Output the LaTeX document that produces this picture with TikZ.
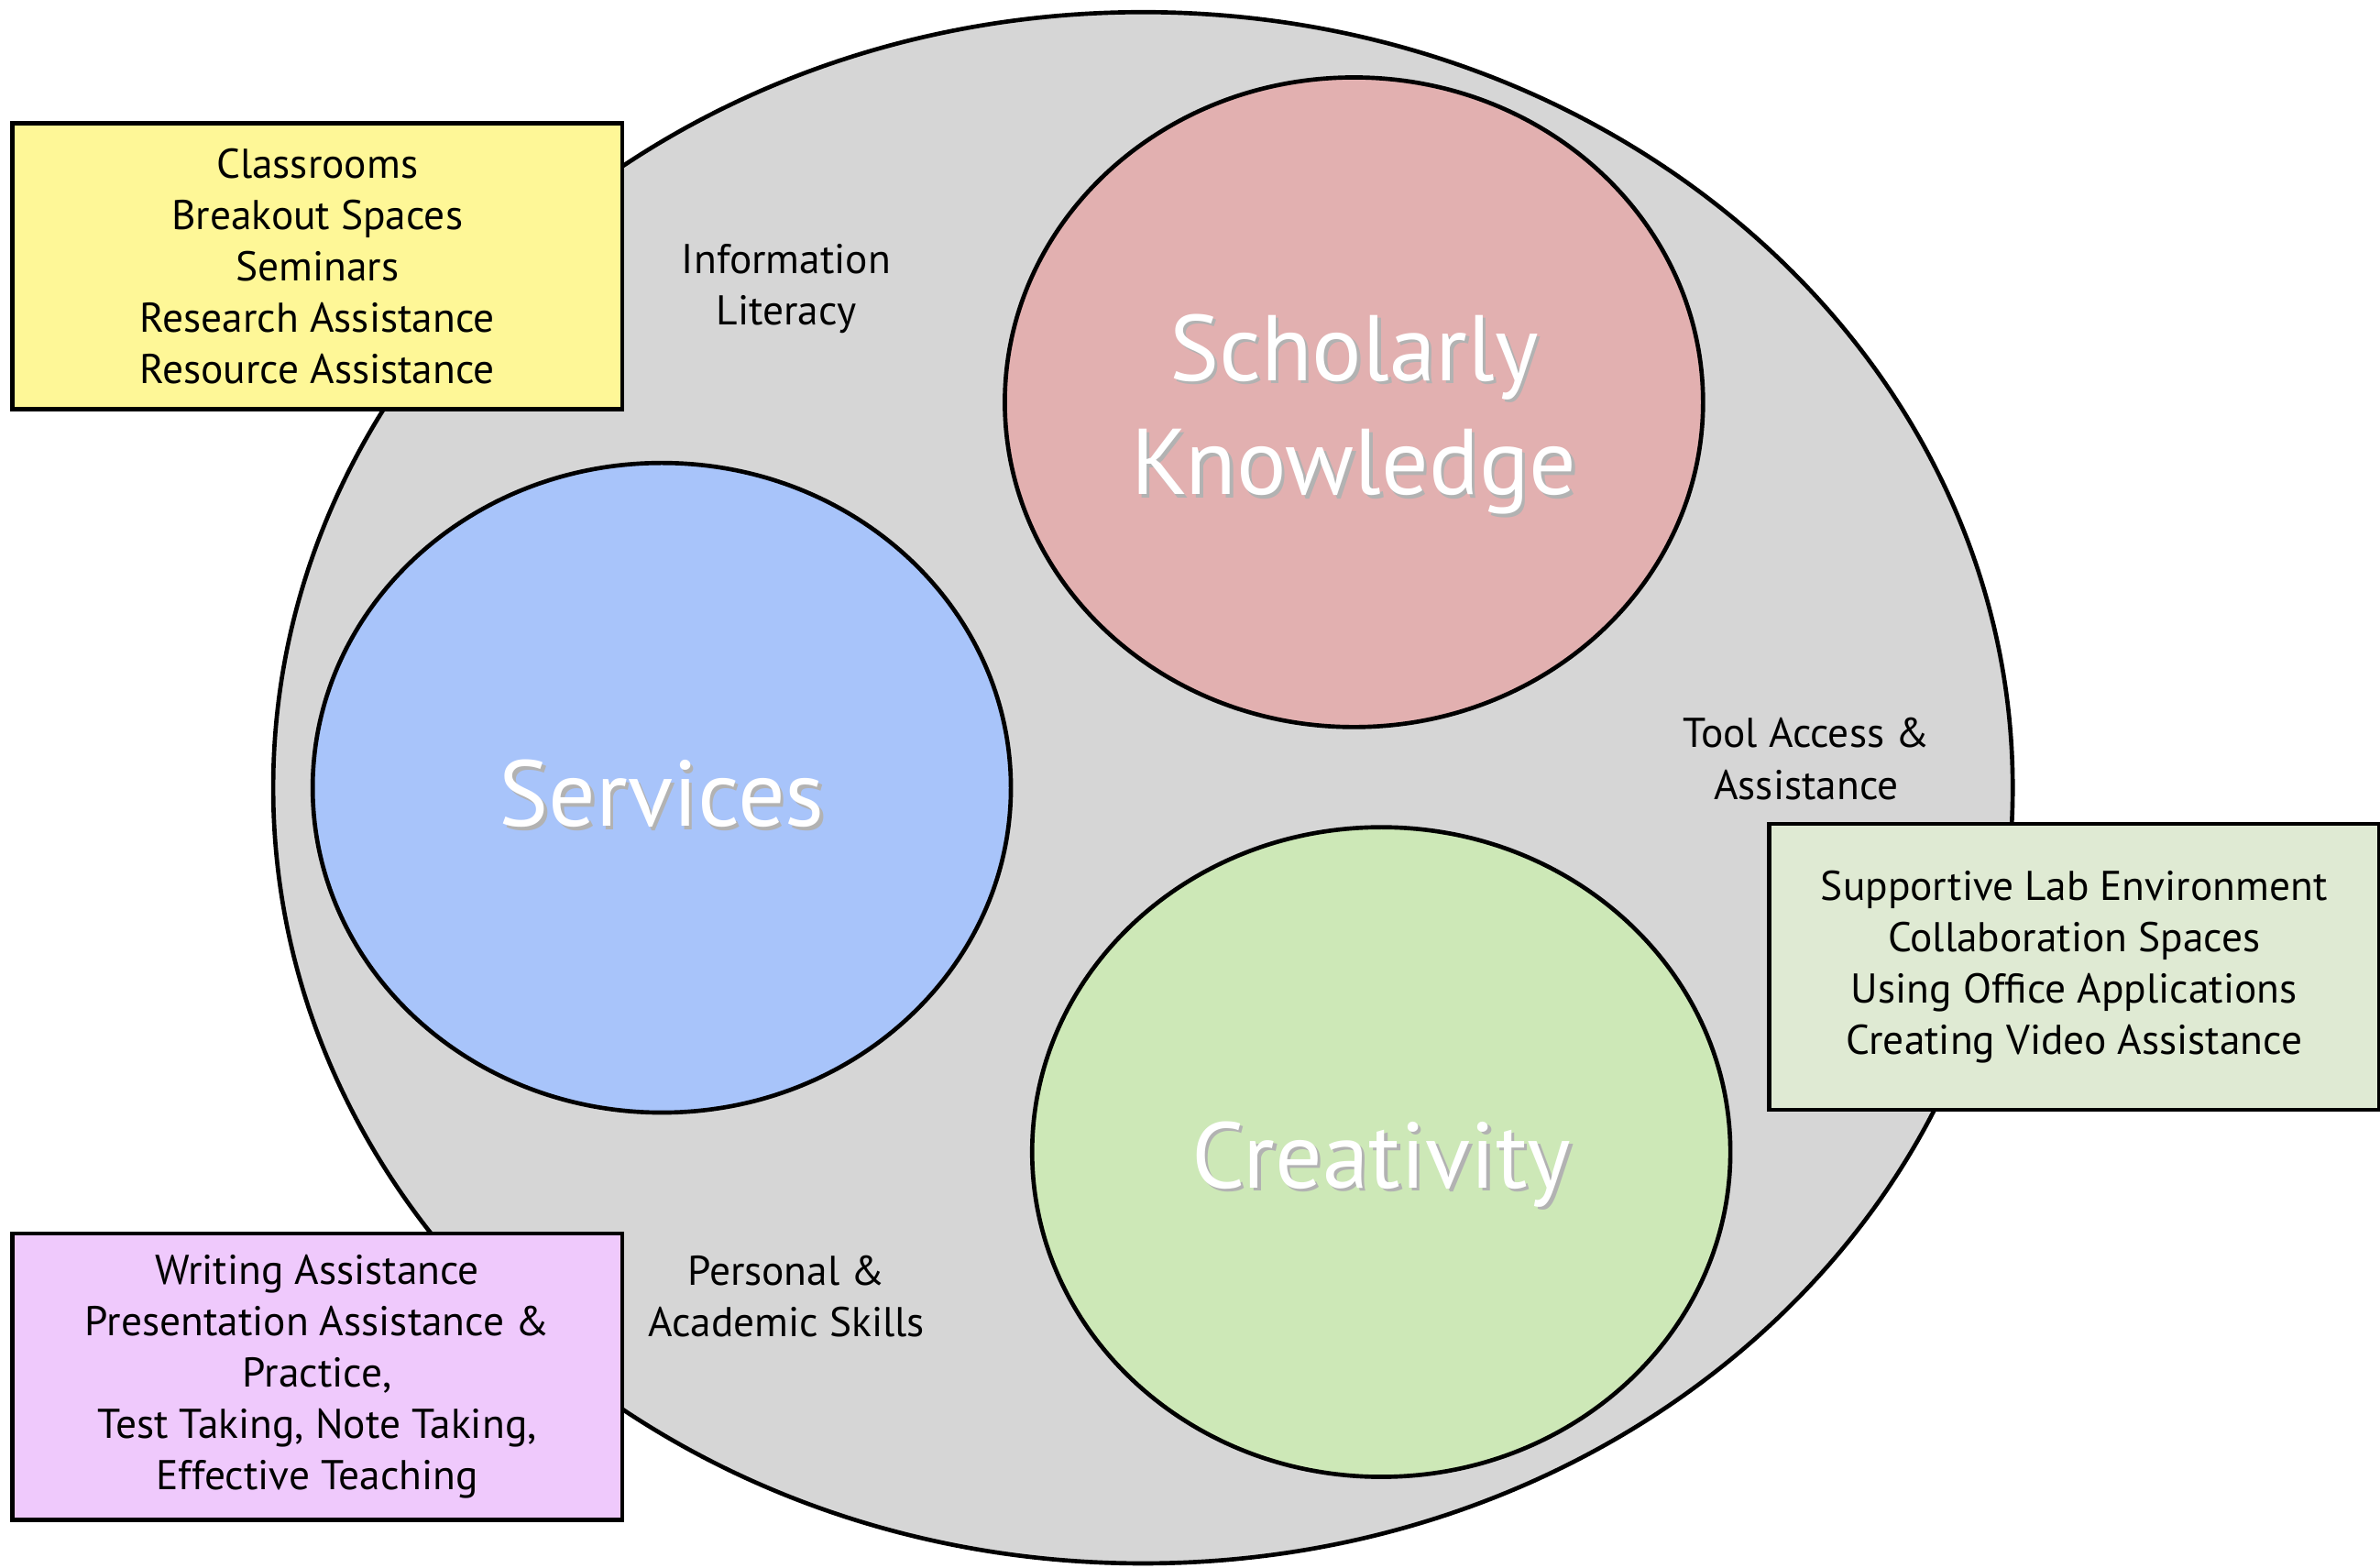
\documentclass[tikz,border=0pt]{standalone}
\usepackage{fontspec}
\setmainfont{PT Sans}
\usepackage{tikz}
\usetikzlibrary{shapes.geometric}

\definecolor{ringgray}{HTML}{D6D6D6}
\definecolor{skpink}{HTML}{E2B0B0}
\definecolor{srvblue}{HTML}{A8C4FA}
\definecolor{crgreen}{HTML}{CDE8B7}
\definecolor{boxyellow}{HTML}{FEF797}
\definecolor{boxgreen}{HTML}{DFEAD3}
\definecolor{boxpurple}{HTML}{EFC9FC}

\newcommand{\shtext}[1]{\makebox[0pt][l]{\hspace{1.2pt}\raisebox{-1.2pt}{\textcolor{black!30}{#1}}}#1}

\begin{document}
\begin{tikzpicture}[x=0.2mm,y=-0.2mm,
		blob/.style={ellipse,draw,line width=1.6pt,minimum width=9.2cm,minimum height=8.56cm,inner sep=0pt},
		bigtext/.style={text=white,align=center,font=\fontsize{35}{42.7}\selectfont},
		listbox/.style={rectangle,draw,line width=1.6pt,minimum width=8.04cm,minimum height=3.77cm,
			align=center,font=\fontsize{15.6}{19.3}\selectfont},
		tag/.style={align=center,font=\fontsize{15.6}{19.3}\selectfont}]
		\useasboundingbox (0,0) rectangle (1568,1033);
		% outer ring
		\node[ellipse,draw,line width=1.6pt,fill=ringgray,minimum width=22.92cm,minimum height=20.44cm] (ring) at (753,519) {};
		% three areas
		\node[blob,fill=skpink] (schol) at (892,265) {};
		\node[blob,fill=srvblue] (serv) at (436,519) {};
		\node[blob,fill=crgreen] (creat) at (910,759) {};
		\node[bigtext] (scholtxt) at (892,274) {\shtext{Scholarly}\\\shtext{Knowledge}};
		\node[bigtext] (servtxt) at (436,524) {\shtext{Services}};
		\node[bigtext] (creattxt) at (910,768) {\shtext{Creativity}};
		% labels between the areas
		\node[tag] (info) at (518,190) {Information\\Literacy};
		\node[tag] (tool) at (1190,500) {Tool Access \&\\Assistance};
		\node[tag] (skills) at (518,854) {Personal \&\\Academic Skills};
		% lists
		\node[listbox,fill=boxyellow] (spaces) at (209,175.5) {Classrooms\\Breakout Spaces\\Seminars\\Research Assistance\\Resource Assistance};
		\node[listbox,fill=boxgreen] (lab) at (1366.5,637) {Supportive Lab Environment\\Collaboration Spaces\\Using Office Applications\\Creating Video Assistance};
		\node[listbox,fill=boxpurple] (writing) at (209,907) {Writing Assistance\\Presentation Assistance \&\\Practice,\\Test Taking, Note Taking,\\Effective Teaching};
	\end{tikzpicture}
\end{document}
